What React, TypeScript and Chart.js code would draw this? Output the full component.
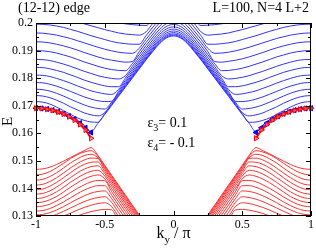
import React, { useEffect, useRef } from "react";
import { Chart, registerables } from "chart.js";
Chart.register(...registerables);

// k_y / pi sample grid (right half; the plot is symmetric in k_y)
const K = [0, 0.05, 0.1, 0.15, 0.2, 0.25, 0.3, 0.35, 0.4, 0.45, 0.5, 0.55, 0.6, 0.65, 0.7, 0.75, 0.8, 0.85, 0.9, 0.95, 1.0];

// upper (blue) bulk sub-bands, E at each K
const blue1 = [0.1953,0.1946,0.1926,0.1897,0.1866,0.1833,0.1800,0.1767,0.1734,0.1701,0.1668,0.1636,0.1606,0.1630,0.1648,0.1663,0.1675,0.1684,0.1691,0.1695,0.1697];
const blue2 = [0.1956,0.1949,0.1929,0.1900,0.1869,0.1836,0.1803,0.1770,0.1737,0.1704,0.1671,0.1640,0.1641,0.1647,0.1656,0.1669,0.1682,0.1695,0.1706,0.1713,0.1715];
const blue3 = [0.1960,0.1953,0.1933,0.1904,0.1873,0.1840,0.1807,0.1774,0.1741,0.1708,0.1675,0.1663,0.1667,0.1674,0.1685,0.1696,0.1709,0.1720,0.1729,0.1735,0.1737];
const blue4 = [0.1965,0.1958,0.1938,0.1909,0.1878,0.1845,0.1812,0.1779,0.1746,0.1713,0.1688,0.1690,0.1695,0.1703,0.1713,0.1724,0.1735,0.1745,0.1753,0.1758,0.1760];
const blue5 = [0.1971,0.1964,0.1944,0.1915,0.1884,0.1851,0.1818,0.1785,0.1752,0.1716,0.1715,0.1718,0.1724,0.1732,0.1742,0.1752,0.1762,0.1771,0.1778,0.1783,0.1784];
const blue6 = [0.1978,0.1971,0.1951,0.1922,0.1891,0.1858,0.1825,0.1792,0.1759,0.1741,0.1743,0.1748,0.1754,0.1763,0.1772,0.1782,0.1791,0.1799,0.1806,0.1810,0.1811];
const blue7 = [0.1986,0.1979,0.1959,0.1930,0.1899,0.1866,0.1833,0.1800,0.1769,0.1769,0.1772,0.1778,0.1785,0.1793,0.1803,0.1812,0.1821,0.1828,0.1834,0.1838,0.1839];
const blue8 = [0.1995,0.1988,0.1968,0.1939,0.1908,0.1875,0.1842,0.1809,0.1797,0.1799,0.1803,0.1809,0.1817,0.1825,0.1834,0.1843,0.1851,0.1858,0.1864,0.1867,0.1868];
const blue9 = [0.2005,0.1998,0.1978,0.1949,0.1918,0.1885,0.1852,0.1827,0.1828,0.1831,0.1836,0.1843,0.1851,0.1859,0.1868,0.1877,0.1884,0.1891,0.1896,0.1899,0.1900];
const blue10 = [0.2016,0.2009,0.1989,0.1960,0.1929,0.1896,0.1860,0.1858,0.1861,0.1865,0.1870,0.1877,0.1885,0.1893,0.1902,0.1910,0.1917,0.1923,0.1928,0.1931,0.1932];
const blue11 = [0.2028,0.2021,0.2001,0.1972,0.1941,0.1908,0.1890,0.1891,0.1894,0.1899,0.1905,0.1912,0.1920,0.1928,0.1936,0.1944,0.1950,0.1956,0.1960,0.1963,0.1964];
const blue12 = [0.2041,0.2034,0.2014,0.1985,0.1954,0.1923,0.1923,0.1925,0.1928,0.1933,0.1940,0.1947,0.1954,0.1962,0.1970,0.1977,0.1984,0.1989,0.1993,0.1995,0.1996];
const blue13 = [0.2055,0.2048,0.2028,0.1999,0.1968,0.1956,0.1958,0.1960,0.1964,0.1970,0.1976,0.1983,0.1990,0.1997,0.2004,0.2011,0.2017,0.2022,0.2025,0.2027,0.2028];
const blue14 = [0.2070,0.2063,0.2043,0.2014,0.1991,0.1992,0.1994,0.1997,0.2001,0.2006,0.2012,0.2019,0.2026,0.2032,0.2039,0.2045,0.2050,0.2054,0.2057,0.2059,0.2060];

// lower (red) bulk sub-bands, E at each K
const red1 = [0.1124,0.1160,0.1196,0.1232,0.1268,0.1304,0.1340,0.1376,0.1412,0.1448,0.1484,0.1520,0.1548,0.1537,0.1525,0.1512,0.1499,0.1487,0.1477,0.1471,0.1469];
const red2 = [0.1120,0.1156,0.1192,0.1228,0.1264,0.1300,0.1336,0.1372,0.1408,0.1444,0.1480,0.1516,0.1537,0.1532,0.1522,0.1508,0.1491,0.1475,0.1461,0.1452,0.1449];
const red3 = [0.1115,0.1151,0.1187,0.1223,0.1259,0.1295,0.1331,0.1367,0.1403,0.1439,0.1475,0.1511,0.1524,0.1519,0.1507,0.1492,0.1474,0.1457,0.1443,0.1433,0.1430];
const red4 = [0.1109,0.1145,0.1181,0.1217,0.1253,0.1289,0.1325,0.1361,0.1397,0.1433,0.1469,0.1509,0.1510,0.1503,0.1490,0.1474,0.1456,0.1439,0.1425,0.1415,0.1412];
const red5 = [0.1102,0.1138,0.1174,0.1210,0.1246,0.1282,0.1318,0.1354,0.1390,0.1426,0.1462,0.1496,0.1495,0.1487,0.1474,0.1457,0.1439,0.1422,0.1408,0.1398,0.1395];
const red6 = [0.1094,0.1130,0.1166,0.1202,0.1238,0.1274,0.1310,0.1346,0.1382,0.1418,0.1454,0.1482,0.1479,0.1470,0.1456,0.1439,0.1422,0.1405,0.1391,0.1382,0.1379];
const red7 = [0.1085,0.1121,0.1157,0.1193,0.1229,0.1265,0.1301,0.1337,0.1373,0.1409,0.1445,0.1466,0.1462,0.1452,0.1438,0.1422,0.1404,0.1388,0.1375,0.1366,0.1363];
const red8 = [0.1075,0.1111,0.1147,0.1183,0.1219,0.1255,0.1291,0.1327,0.1363,0.1399,0.1435,0.1449,0.1444,0.1434,0.1420,0.1404,0.1387,0.1371,0.1359,0.1351,0.1348];
const red9 = [0.1064,0.1100,0.1136,0.1172,0.1208,0.1244,0.1280,0.1316,0.1352,0.1388,0.1428,0.1429,0.1424,0.1413,0.1400,0.1385,0.1369,0.1355,0.1343,0.1336,0.1333];
const red10 = [0.1052,0.1088,0.1124,0.1160,0.1196,0.1232,0.1268,0.1304,0.1340,0.1376,0.1410,0.1410,0.1404,0.1394,0.1381,0.1366,0.1351,0.1338,0.1327,0.1320,0.1318];
const red11 = [0.1039,0.1075,0.1111,0.1147,0.1183,0.1219,0.1255,0.1291,0.1327,0.1363,0.1391,0.1389,0.1383,0.1373,0.1361,0.1348,0.1334,0.1322,0.1312,0.1306,0.1304];
const red12 = [0.1025,0.1061,0.1097,0.1133,0.1169,0.1205,0.1241,0.1277,0.1313,0.1349,0.1370,0.1367,0.1361,0.1352,0.1341,0.1329,0.1317,0.1306,0.1297,0.1292,0.1290];
const red13 = [0.1010,0.1046,0.1082,0.1118,0.1154,0.1190,0.1226,0.1262,0.1298,0.1334,0.1348,0.1345,0.1339,0.1331,0.1321,0.1310,0.1300,0.1291,0.1283,0.1279,0.1277];
const red14 = [0.0994,0.1030,0.1066,0.1102,0.1138,0.1174,0.1210,0.1246,0.1282,0.1322,0.1324,0.1321,0.1316,0.1309,0.1300,0.1291,0.1283,0.1275,0.1269,0.1265,0.1264];

// edge states (markers), right half
const K_EDGE = [0.6, 0.64, 0.68, 0.72, 0.76, 0.8, 0.84, 0.88, 0.92, 0.96, 1.0];
const blueEdge = [0.1603, 0.1620, 0.1637, 0.1651, 0.1662, 0.1671, 0.1678, 0.1684, 0.1688, 0.1690, 0.1691];
const redEdge = [0.1582, 0.1612, 0.1632, 0.1648, 0.1660, 0.1670, 0.1677, 0.1683, 0.1687, 0.1690, 0.1691];

// axes
const X_TICKS = [-1, -0.5, 0, 0.5, 1];
const X_MINOR = [-0.75, -0.25, 0.25, 0.75];
const Y_TICKS = [0.13, 0.14, 0.15, 0.16, 0.17, 0.18, 0.19, 0.2];
const Y_MINOR = [0.135, 0.145, 0.155, 0.165, 0.175, 0.185, 0.195];

const TITLE_LEFT = "(12-12) edge";
const TITLE_RIGHT = "L=100, N=4 L+2";
const EPS3 = { sym: "ε", sub: "3", rest: "= 0.1", k: -0.19, e: 0.1623 };
const EPS4 = { sym: "ε", sub: "4", rest: "= - 0.1", k: -0.19, e: 0.1551 };

const BLUE_BANDS = [blue1, blue2, blue3, blue4, blue5, blue6, blue7, blue8, blue9, blue10, blue11, blue12, blue13, blue14];
const RED_BANDS = [red1, red2, red3, red4, red5, red6, red7, red8, red9, red10, red11, red12, red13, red14];

const SERIF = '"Liberation Serif", "Times New Roman", serif';

function mirrored(ks: number[], vals: number[]) {
  const pts: { x: number; y: number }[] = [];
  for (let i = ks.length - 1; i >= 1; i--) pts.push({ x: -ks[i], y: vals[i] });
  for (let i = 0; i < ks.length; i++) pts.push({ x: ks[i], y: vals[i] });
  return pts;
}
function side(ks: number[], vals: number[], sign: number) {
  const pts = ks.map((k, i) => ({ x: sign * k, y: vals[i] }));
  return sign < 0 ? pts.reverse() : pts;
}

function drawSub(ctx: CanvasRenderingContext2D, x: number, y: number, main: string, sub: string, rest: string, size: number, center = false) {
  const big = `${size}px ${SERIF}`;
  const small = `${Math.round(size * 0.7)}px ${SERIF}`;
  ctx.font = big;
  const w1 = ctx.measureText(main).width;
  const w3 = ctx.measureText(rest).width;
  ctx.font = small;
  const w2 = ctx.measureText(sub).width;
  const x0 = center ? x - (w1 + w2 + w3) / 2 : x;
  ctx.textAlign = "left";
  ctx.textBaseline = "alphabetic";
  ctx.font = big;
  ctx.fillText(main, x0, y);
  ctx.font = small;
  ctx.fillText(sub, x0 + w1, y + size * 0.3);
  ctx.font = big;
  ctx.fillText(rest, x0 + w1 + w2, y);
}

const decor = {
  id: "decor",
  afterDraw(chart: any) {
    const { ctx, chartArea: a, scales } = chart;
    const xs = scales.x, ys = scales.y;
    ctx.save();
    ctx.strokeStyle = "#000";
    ctx.lineWidth = 1;
    ctx.strokeRect(a.left + 0.5, a.top + 0.5, a.right - a.left - 1, a.bottom - a.top - 1);
    ctx.beginPath();
    const yT = (vals: number[], len: number) => {
      vals.forEach((v) => {
        const py = Math.round(ys.getPixelForValue(v)) + 0.5;
        ctx.moveTo(a.left, py); ctx.lineTo(a.left + len, py);
        ctx.moveTo(a.right, py); ctx.lineTo(a.right - len, py);
      });
    };
    const xT = (vals: number[], len: number) => {
      vals.forEach((v) => {
        const px = Math.round(xs.getPixelForValue(v)) + 0.5;
        ctx.moveTo(px, a.bottom); ctx.lineTo(px, a.bottom - len);
        ctx.moveTo(px, a.top); ctx.lineTo(px, a.top + len);
      });
    };
    yT(Y_TICKS, 5); yT(Y_MINOR, 3);
    xT(X_TICKS, 5); xT(X_MINOR, 3);
    ctx.stroke();

    ctx.fillStyle = "#000";
    ctx.font = `14px ${SERIF}`;
    ctx.textBaseline = "alphabetic";
    ctx.textAlign = "left";
    ctx.fillText(TITLE_LEFT, 18, 12);
    ctx.textAlign = "right";
    ctx.fillText(TITLE_RIGHT, 309, 12);

    [EPS3, EPS4].forEach((t) => {
      drawSub(ctx, xs.getPixelForValue(t.k), ys.getPixelForValue(t.e), t.sym, t.sub, t.rest, 14);
    });

    drawSub(ctx, (a.left + a.right) / 2, 238, "k", "y", " / π", 16, true);

    ctx.save();
    ctx.translate(8, (a.top + a.bottom) / 2 + 2);
    ctx.rotate(-Math.PI / 2);
    ctx.textAlign = "center";
    ctx.textBaseline = "middle";
    ctx.font = `15px ${SERIF}`;
    ctx.fillText("E", 0, 0);
    ctx.restore();
    ctx.restore();
  },
};

export default function App() {
  const ref = useRef<HTMLCanvasElement>(null);
  useEffect(() => {
    const canvas = ref.current;
    if (!canvas) return;
    const datasets: any[] = [];
    [-1, 1].forEach((s) => {
      datasets.push({
        data: side(K_EDGE, redEdge, s), borderColor: "#ff0000", borderWidth: 2,
        pointStyle: "triangle", pointRotation: 90, pointRadius: 3,
        pointBorderColor: "#ff0000", pointBackgroundColor: "rgba(255,140,140,0.6)", pointBorderWidth: 1,
        order: 0, clip: 8, tension: 0.3,
      });
      datasets.push({
        data: side(K_EDGE, blueEdge, s), borderColor: "#0000ff", borderWidth: 1,
        pointStyle: "triangle", pointRotation: -90, pointRadius: 3,
        pointBorderColor: "#0000ff", pointBackgroundColor: "#0000ff", pointBorderWidth: 1,
        order: 1, clip: 8, tension: 0.3,
      });
    });
    BLUE_BANDS.forEach((b) => datasets.push({
      data: mirrored(K, b), borderColor: "rgb(50,50,255)", borderWidth: 1, pointRadius: 0,
      cubicInterpolationMode: "monotone", order: 2,
    }));
    RED_BANDS.forEach((b) => datasets.push({
      data: mirrored(K, b), borderColor: "rgb(255,50,50)", borderWidth: 1, pointRadius: 0,
      cubicInterpolationMode: "monotone", order: 2,
    }));

    const chart = new Chart(canvas, {
      type: "line",
      data: { datasets },
      options: {
        responsive: false,
        devicePixelRatio: 1,
        animation: false,
        events: [],
        layout: { padding: { top: 23, right: 5, left: 0, bottom: 0 } },
        plugins: { legend: { display: false }, tooltip: { enabled: false } },
        scales: {
          x: {
            type: "linear", min: -1, max: 1,
            afterBuildTicks: (s: any) => { s.ticks = X_TICKS.map((v) => ({ value: v })); },
            afterFit: (s: any) => { s.height = 33; },
            grid: { display: false, drawTicks: false },
            border: { display: false },
            ticks: { padding: 2, color: "#000", maxRotation: 0, autoSkip: false, font: { family: SERIF, size: 12 },
              callback: (v: any) => String(+Number(v).toFixed(2)) },
          },
          y: {
            type: "linear", min: 0.13, max: 0.2,
            afterBuildTicks: (s: any) => { s.ticks = Y_TICKS.map((v) => ({ value: v })); },
            afterFit: (s: any) => { s.width = 36; },
            grid: { display: false, drawTicks: false },
            border: { display: false },
            ticks: { padding: 3, color: "#000", autoSkip: false, font: { family: SERIF, size: 12 },
              callback: (v: any) => String(+Number(v).toFixed(3)) },
          },
        },
      },
      plugins: [decor],
    } as any);
    return () => chart.destroy();
  }, []);
  return (
    <div style={{ position: "absolute", left: 0, top: 0, width: 316, height: 249, background: "#fff" }}>
      <canvas ref={ref} width={316} height={249} style={{ width: 316, height: 249, display: "block" }} />
    </div>
  );
}
